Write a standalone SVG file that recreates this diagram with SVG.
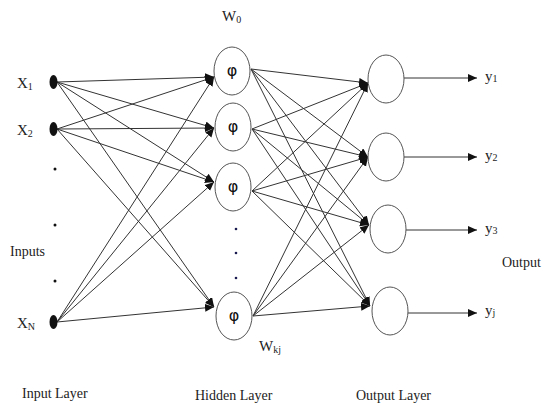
<svg xmlns="http://www.w3.org/2000/svg" width="548" height="406" viewBox="0 0 548 406">
<style>
.lbl{font-family:"Liberation Serif","Times New Roman",serif;font-size:14px;fill:#222}
.big{font-size:15px}
.sub{font-size:10px}
.phi{font-family:"DejaVu Sans","Liberation Sans",sans-serif;font-size:16px;fill:#111;text-anchor:middle}
.node{fill:#fff;stroke:#555;stroke-width:1}
.edge{stroke:#333;stroke-width:1;fill:none;marker-end:url(#ah)}
.dot{fill:#111}
</style>
<defs>
<marker id="ah" markerUnits="userSpaceOnUse" markerWidth="10" markerHeight="10" refX="9" refY="4" orient="auto">
<path d="M0,0 L9,4 L0,8 Z" fill="#111"/>
</marker>
</defs>
<rect width="548" height="406" fill="#fff"/>
<g id="connectors">
<line class="edge" x1="57" y1="82" x2="214" y2="77"/>
<line class="edge" x1="57" y1="82" x2="214" y2="128"/>
<line class="edge" x1="57" y1="82" x2="214" y2="182"/>
<line class="edge" x1="57" y1="82" x2="214" y2="307"/>
<line class="edge" x1="57" y1="129" x2="214" y2="77"/>
<line class="edge" x1="57" y1="129" x2="214" y2="128"/>
<line class="edge" x1="57" y1="129" x2="214" y2="182"/>
<line class="edge" x1="57" y1="129" x2="214" y2="307"/>
<line class="edge" x1="57" y1="322" x2="214" y2="77"/>
<line class="edge" x1="57" y1="322" x2="214" y2="128"/>
<line class="edge" x1="57" y1="322" x2="214" y2="182"/>
<line class="edge" x1="57" y1="322" x2="214" y2="307"/>
<line class="edge" x1="251" y1="69" x2="368" y2="83"/>
<line class="edge" x1="251" y1="69" x2="368" y2="157"/>
<line class="edge" x1="251" y1="69" x2="369" y2="225"/>
<line class="edge" x1="251" y1="69" x2="370" y2="306"/>
<line class="edge" x1="252" y1="129" x2="368" y2="83"/>
<line class="edge" x1="252" y1="129" x2="368" y2="157"/>
<line class="edge" x1="252" y1="129" x2="369" y2="225"/>
<line class="edge" x1="252" y1="129" x2="370" y2="306"/>
<line class="edge" x1="252" y1="191" x2="368" y2="83"/>
<line class="edge" x1="252" y1="191" x2="368" y2="157"/>
<line class="edge" x1="252" y1="191" x2="369" y2="225"/>
<line class="edge" x1="252" y1="191" x2="370" y2="306"/>
<line class="edge" x1="253" y1="316" x2="368" y2="83"/>
<line class="edge" x1="253" y1="316" x2="368" y2="157"/>
<line class="edge" x1="253" y1="316" x2="369" y2="225"/>
<line class="edge" x1="253" y1="316" x2="370" y2="306"/>
<line class="edge" x1="404" y1="78" x2="477" y2="78"/>
<line class="edge" x1="404" y1="157" x2="477" y2="157"/>
<line class="edge" x1="406" y1="230" x2="477" y2="230"/>
<line class="edge" x1="408" y1="313" x2="477" y2="313"/>
</g>
<g id="x1"><ellipse class="dot" cx="53.5" cy="82" rx="4" ry="7"/><text class="lbl big" x="17" y="88">X<tspan class="sub" dy="2">1</tspan></text></g>
<g id="x2"><ellipse class="dot" cx="53.5" cy="129" rx="4" ry="7"/><text class="lbl big" x="17" y="135">X<tspan class="sub" dy="2">2</tspan></text></g>
<g id="xn"><ellipse class="dot" cx="53.5" cy="322" rx="4" ry="7"/><text class="lbl big" x="17" y="328">X<tspan class="sub" dy="2">N</tspan></text></g>
<g id="input-dots"><circle class="dot" cx="55" cy="169" r="1.5"/><circle class="dot" cx="55" cy="225" r="1.5"/><circle class="dot" cx="55" cy="281" r="1.5"/></g>
<g id="h1"><ellipse class="node" cx="232" cy="71" rx="18" ry="24"/><text class="phi" x="232" y="76">φ</text></g>
<g id="h2"><ellipse class="node" cx="233" cy="127" rx="18" ry="24"/><text class="phi" x="233" y="132">φ</text></g>
<g id="h3"><ellipse class="node" cx="233" cy="187" rx="18" ry="24"/><text class="phi" x="233" y="192">φ</text></g>
<g id="h4"><ellipse class="node" cx="234" cy="316" rx="18" ry="24"/><text class="phi" x="234" y="321">φ</text></g>
<g id="hidden-dots"><circle cx="236" cy="229" r="1.3" fill="#1a1a50"/><circle cx="236" cy="253" r="1.3" fill="#1a1a50"/><circle cx="236" cy="278" r="1.3" fill="#1a1a50"/></g>
<g id="o1"><ellipse class="node" cx="386" cy="79" rx="18" ry="24"/></g>
<g id="o2"><ellipse class="node" cx="386" cy="157" rx="18" ry="24"/></g>
<g id="o3"><ellipse class="node" cx="388" cy="229" rx="18" ry="24"/></g>
<g id="o4"><ellipse class="node" cx="390" cy="311" rx="18" ry="24"/></g>
<g id="labels">
<text class="lbl big" x="485" y="81">y<tspan class="sub" dy="1">1</tspan></text>
<text class="lbl big" x="485" y="160">y<tspan class="sub" dy="1">2</tspan></text>
<text class="lbl big" x="485" y="233">y<tspan class="sub" dy="1">3</tspan></text>
<text class="lbl big" x="485" y="315">y<tspan class="sub" dy="1">j</tspan></text>
<text class="lbl big" x="222" y="21">W<tspan class="sub" dy="2">0</tspan></text>
<text class="lbl big" x="259" y="351">W<tspan class="sub" dy="2">kj</tspan></text>
<text class="lbl" x="10" y="256">Inputs</text>
<text class="lbl" x="502" y="267">Output</text>
<text class="lbl" x="22" y="398">Input Layer</text>
<text class="lbl" x="195" y="400">Hidden Layer</text>
<text class="lbl" x="356" y="400">Output Layer</text>
</g>
</svg>
